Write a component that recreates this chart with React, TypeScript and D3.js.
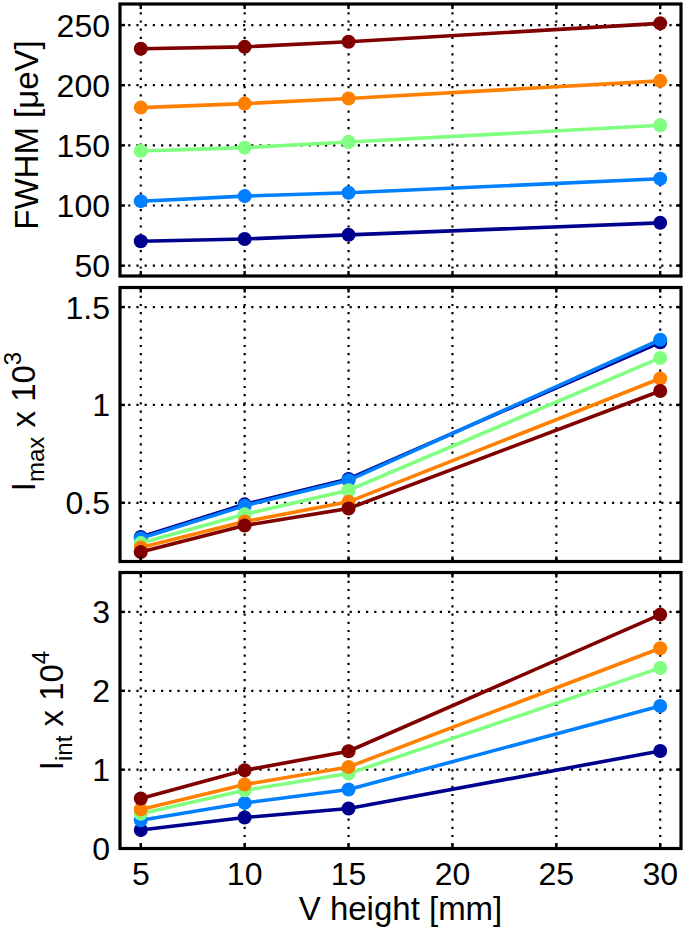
import React from "react";
import * as d3 from "d3";

const xValues = [5, 10, 15, 30];
const xTicks = [5, 10, 15, 20, 25, 30];
const seriesColors = ["#00008f", "#0080ff", "#80ff80", "#ff8000", "#800000"];

// FWHM [ueV], series in plot order (navy, blue, green, orange, dark red)
const fwhmNavy = [70.3, 72.2, 75.6, 85.6];
const fwhmBlue = [103.6, 107.8, 110.6, 122.2];
const fwhmGreen = [145.3, 148.1, 152.8, 166.7];
const fwhmOrange = [181.4, 184.7, 188.9, 203.6];
const fwhmRed = [230.3, 231.9, 236.1, 251.4];

// I_max x 10^3
const imaxNavy = [0.325, 0.492, 0.622, 1.32];
const imaxBlue = [0.319, 0.485, 0.615, 1.333];
const imaxGreen = [0.294, 0.441, 0.564, 1.24];
const imaxOrange = [0.272, 0.404, 0.505, 1.135];
const imaxRed = [0.248, 0.384, 0.471, 1.071];

// I_int x 10^4
const iintNavy = [0.235, 0.393, 0.507, 1.237];
const iintBlue = [0.359, 0.578, 0.748, 1.807];
const iintGreen = [0.44, 0.739, 0.95, 2.29];
const iintOrange = [0.495, 0.811, 1.034, 2.54];
const iintRed = [0.634, 0.992, 1.233, 2.966];

const fwhmTicks = [50, 100, 150, 200, 250];
const fwhmTickLabels = ["50", "100", "150", "200", "250"];
const imaxTicks = [0.5, 1, 1.5];
const imaxTickLabels = ["0.5", "1", "1.5"];
const iintTicks = [0, 1, 2, 3];
const iintTickLabels = ["0", "1", "2", "3"];

const FONT = "'Liberation Sans', Arial, Helvetica, sans-serif";
const LEFT = 120;
const RIGHT = 681;
const FS = 32;

const xScale = d3.scaleLinear().domain([4, 31]).range([LEFT, RIGHT]);

type PanelProps = {
  top: number;
  bottom: number;
  domain: [number, number];
  ticks: number[];
  tickLabels: string[];
  series: number[][];
  label: React.ReactNode;
  showXLabels?: boolean;
};

function Panel({ top, bottom, domain, ticks, tickLabels, series, label, showXLabels }: PanelProps) {
  const y = d3.scaleLinear().domain(domain).range([bottom, top]);
  const line = d3
    .line<number>()
    .x((_, i) => xScale(xValues[i]))
    .y((d) => y(d));
  const tl = 5;
  return (
    <g>
      {xTicks.map((t) => (
        <line
          key={"gx" + t}
          x1={xScale(t)}
          x2={xScale(t)}
          y1={top}
          y2={bottom}
          stroke="#000"
          strokeWidth={2.2}
          strokeDasharray="2.2,6"
        />
      ))}
      {ticks.map((t) => (
        <line
          key={"gy" + t}
          x1={LEFT}
          x2={RIGHT}
          y1={y(t)}
          y2={y(t)}
          stroke="#000"
          strokeWidth={2.2}
          strokeDasharray="2.2,6"
        />
      ))}
      {series.map((s, si) => (
        <g key={"s" + si}>
          <path d={line(s) || ""} fill="none" stroke={seriesColors[si]} strokeWidth={3.6} />
          {s.map((v, i) => (
            <circle key={i} cx={xScale(xValues[i])} cy={y(v)} r={7} fill={seriesColors[si]} />
          ))}
        </g>
      ))}
      {xTicks.map((t) => (
        <g key={"tx" + t}>
          <line x1={xScale(t)} x2={xScale(t)} y1={bottom} y2={bottom - tl} stroke="#000" strokeWidth={2.4} />
          <line x1={xScale(t)} x2={xScale(t)} y1={top} y2={top + tl} stroke="#000" strokeWidth={2.4} />
        </g>
      ))}
      {ticks.map((t) => (
        <g key={"ty" + t}>
          <line x1={LEFT} x2={LEFT + tl} y1={y(t)} y2={y(t)} stroke="#000" strokeWidth={2.4} />
          <line x1={RIGHT} x2={RIGHT - tl} y1={y(t)} y2={y(t)} stroke="#000" strokeWidth={2.4} />
        </g>
      ))}
      <rect x={LEFT} y={top} width={RIGHT - LEFT} height={bottom - top} fill="none" stroke="#000" strokeWidth={3.2} />
      {ticks.map((t, i) => (
        <text
          key={"yl" + t}
          x={110}
          y={y(t)}
          dy="0.36em"
          textAnchor="end"
          fontSize={FS}
          fontFamily={FONT}
          fill="#000"
        >
          {tickLabels[i]}
        </text>
      ))}
      {showXLabels &&
        xTicks.map((t) => (
          <text key={"xl" + t} x={xScale(t)} y={885} textAnchor="middle" fontSize={FS} fontFamily={FONT} fill="#000">
            {t}
          </text>
        ))}
      {label}
    </g>
  );
}

export default function App() {
  const p1 = { top: 4, bottom: 276 };
  const p2 = { top: 287.5, bottom: 561.5 };
  const p3 = { top: 572.5, bottom: 848.5 };
  return (
    <svg width={685} height={927} style={{ position: "absolute", left: 0, top: 0, background: "#fff" }}>
      <rect x={0} y={0} width={685} height={927} fill="#fff" />
      <Panel
        top={p1.top}
        bottom={p1.bottom}
        domain={[41.4, 267.5]}
        ticks={fwhmTicks}
        tickLabels={fwhmTickLabels}
        series={[fwhmNavy, fwhmBlue, fwhmGreen, fwhmOrange, fwhmRed]}
        label={
          <text
            transform={`translate(38, ${(p1.top + p1.bottom) / 2 - 5}) rotate(-90)`}
            textAnchor="middle"
            fontSize={33}
            fontFamily={FONT}
            fill="#000"
          >
            FWHM [μeV]
          </text>
        }
      />
      <Panel
        top={p2.top}
        bottom={p2.bottom}
        domain={[0.2, 1.6]}
        ticks={imaxTicks}
        tickLabels={imaxTickLabels}
        series={[imaxNavy, imaxBlue, imaxGreen, imaxOrange, imaxRed]}
        label={
          <text
            transform={`translate(35, ${(p2.top + p2.bottom) / 2 - 3}) rotate(-90)`}
            textAnchor="middle"
            fontSize={33}
            fontFamily={FONT}
            fill="#000"
          >
            <tspan>I</tspan>
            <tspan dy={9} fontSize={24}>max</tspan>
            <tspan dy={-9}> x 10</tspan>
            <tspan dy={-14} fontSize={24}>3</tspan>
          </text>
        }
      />
      <Panel
        top={p3.top}
        bottom={p3.bottom}
        domain={[0, 3.5]}
        ticks={iintTicks}
        tickLabels={iintTickLabels}
        series={[iintNavy, iintBlue, iintGreen, iintOrange, iintRed]}
        showXLabels
        label={
          <text
            transform={`translate(63, ${(p3.top + p3.bottom) / 2}) rotate(-90)`}
            textAnchor="middle"
            fontSize={33}
            fontFamily={FONT}
            fill="#000"
          >
            <tspan>I</tspan>
            <tspan dy={9} fontSize={24}>int</tspan>
            <tspan dy={-9}> x 10</tspan>
            <tspan dy={-14} fontSize={24}>4</tspan>
          </text>
        }
      />
      <text x={(LEFT + RIGHT) / 2} y={920} textAnchor="middle" fontSize={33} fontFamily={FONT} fill="#000">
        V height [mm]
      </text>
    </svg>
  );
}
